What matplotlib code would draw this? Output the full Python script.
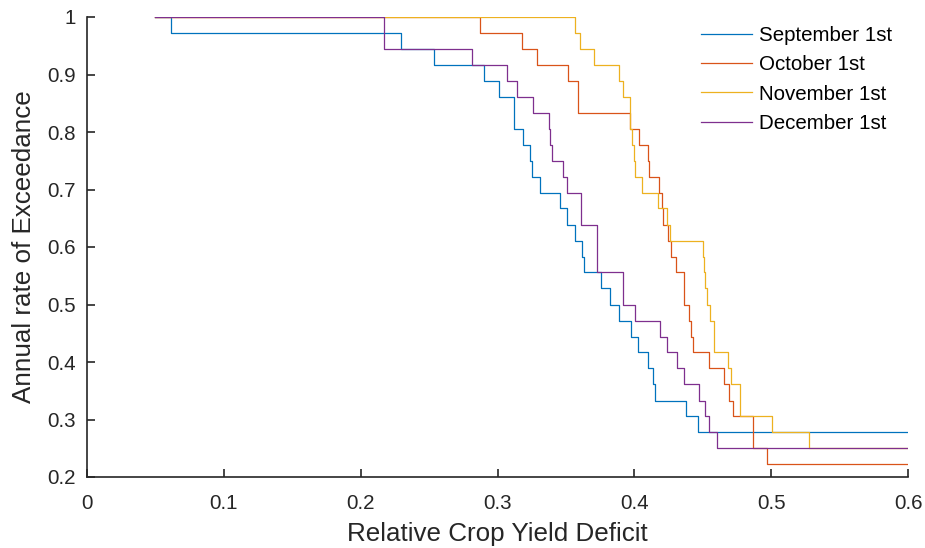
import matplotlib
matplotlib.use("Agg")
import matplotlib.pyplot as plt
from matplotlib.ticker import FuncFormatter

plt.rcParams['font.family'] = ['Liberation Sans', 'DejaVu Sans']

# step points (x where the curve drops, level after the drop)
sep_x = [0.05, 0.0611, 0.2295, 0.2538, 0.2904, 0.3013, 0.3123, 0.3184, 0.3238, 0.3252,
         0.3313, 0.3457, 0.3506, 0.3569, 0.3615, 0.363, 0.3757, 0.3822, 0.389, 0.3976,
         0.4025, 0.4103, 0.4134, 0.4151, 0.4375, 0.4463, 0.6]
sep_y = [1.0, 0.972, 0.944, 0.917, 0.889, 0.861, 0.806, 0.778, 0.75, 0.722,
         0.694, 0.667, 0.639, 0.611, 0.583, 0.556, 0.528, 0.5, 0.472, 0.444,
         0.417, 0.389, 0.361, 0.333, 0.306, 0.278, 0.278]

oct_x = [0.05, 0.2872, 0.3182, 0.3286, 0.3513, 0.3591, 0.3968, 0.4037, 0.4102, 0.4110,
         0.4183, 0.4202, 0.4212, 0.4244, 0.4268, 0.4305, 0.4363, 0.4400, 0.4415, 0.4430,
         0.4548, 0.4658, 0.4694, 0.4724, 0.4865, 0.4967, 0.6]
oct_y = [1.0, 0.972, 0.944, 0.917, 0.889, 0.833, 0.806, 0.778, 0.75, 0.722,
         0.694, 0.667, 0.639, 0.611, 0.583, 0.556, 0.5, 0.472, 0.444, 0.417,
         0.389, 0.361, 0.333, 0.306, 0.25, 0.222, 0.222]

nov_x = [0.05, 0.357, 0.360, 0.3705, 0.3886, 0.3914, 0.3966, 0.3985, 0.3995, 0.4002,
         0.4054, 0.4176, 0.4237, 0.4261, 0.4504, 0.4510, 0.4520, 0.4530, 0.4553, 0.4585,
         0.4687, 0.4704, 0.4772, 0.5004, 0.5279, 0.6]
nov_y = [1.0, 0.972, 0.944, 0.917, 0.889, 0.861, 0.806, 0.778, 0.75, 0.722,
         0.694, 0.667, 0.639, 0.611, 0.583, 0.556, 0.528, 0.5, 0.472, 0.417,
         0.389, 0.361, 0.306, 0.278, 0.25, 0.25]

dec_x = [0.05, 0.2171, 0.2811, 0.3072, 0.314, 0.3262, 0.3377, 0.3385, 0.3396, 0.3481,
         0.351, 0.3613, 0.3725, 0.3915, 0.4005, 0.4188, 0.4237, 0.431, 0.4366, 0.4475,
         0.4517, 0.4548, 0.4607, 0.6]
dec_y = [1.0, 0.944, 0.917, 0.889, 0.861, 0.833, 0.806, 0.778, 0.75, 0.722,
         0.694, 0.639, 0.556, 0.5, 0.472, 0.444, 0.417, 0.389, 0.361, 0.333,
         0.306, 0.278, 0.25, 0.25]

labels = ["September 1st", "October 1st", "November 1st", "December 1st"]
colors = ["#0072BD", "#D95319", "#EDB120", "#7E2F8E"]


def draw_exceedance():
    fig = plt.figure(figsize=(9.25, 5.48), dpi=100)
    ax = fig.add_axes([87 / 925, 71 / 548, 821 / 925, 460 / 548])

    series = [(sep_x, sep_y), (oct_x, oct_y), (nov_x, nov_y), (dec_x, dec_y)]
    for (xs, ys), lab, c in zip(series, labels, colors):
        ax.plot(xs, ys, drawstyle='steps-post', color=c, lw=0.9, label=lab)

    ax.set_xlim(0, 0.6)
    ax.set_ylim(0.2, 1)
    ax.set_xticks([0, 0.1, 0.2, 0.3, 0.4, 0.5, 0.6])
    ax.set_yticks([0.2, 0.3, 0.4, 0.5, 0.6, 0.7, 0.8, 0.9, 1.0])
    ax.xaxis.set_major_formatter(FuncFormatter(lambda v, p: "%g" % round(v, 2)))
    ax.yaxis.set_major_formatter(FuncFormatter(lambda v, p: "%g" % round(v, 2)))

    for s in ['top', 'right']:
        ax.spines[s].set_visible(False)
    for s in ['left', 'bottom']:
        ax.spines[s].set_linewidth(1.2)
        ax.spines[s].set_color('#262626')
    ax.tick_params(direction='in', length=6, width=1.2, color='#262626',
                   labelsize=14.8, labelcolor='#262626')
    ax.tick_params(axis='x', pad=12)
    ax.tick_params(axis='y', pad=8)

    ax.set_xlabel("Relative Crop Yield Deficit", fontsize=18.7, color='#262626', labelpad=7)
    ax.set_ylabel("Annual rate of Exceedance", fontsize=18.7, color='#262626', labelpad=8)

    ax.legend(loc='upper left', bbox_to_anchor=(701 / 925, 1 - 26 / 548),
              bbox_transform=fig.transFigure, frameon=False, fontsize=14.8,
              handlelength=2.5, handletextpad=0.3, labelspacing=0.5,
              borderpad=0, borderaxespad=0)

    fig.savefig("out.png", dpi=100)


if __name__ == '__main__':
    draw_exceedance()
